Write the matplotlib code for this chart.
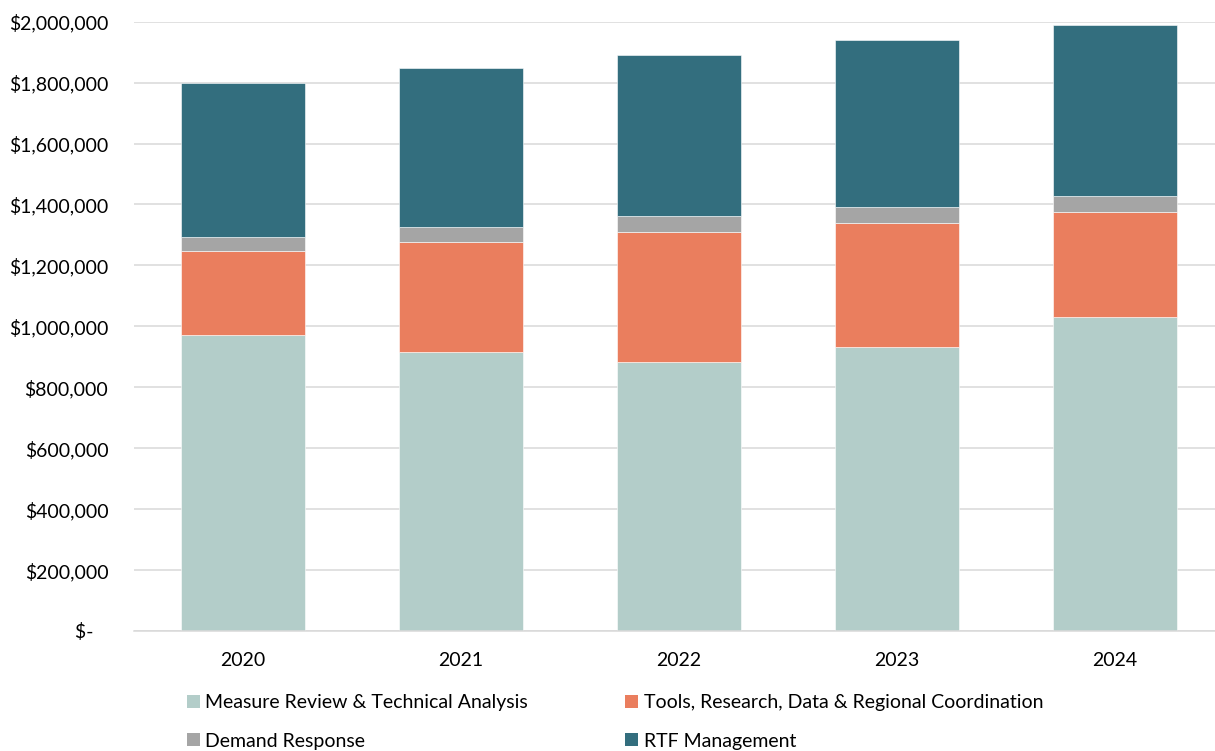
import matplotlib
matplotlib.use("Agg")
import matplotlib.pyplot as plt
from matplotlib.patches import Patch
from matplotlib.ticker import FuncFormatter
import numpy as np

# data
years = ["2020", "2021", "2022", "2023", "2024"]
measure_review = [972000, 917000, 883000, 931000, 1030000]
tools_research = [274000, 361000, 427000, 409000, 345000]
demand_response = [48000, 49000, 51000, 52000, 52000]
rtf_management = [506000, 520000, 531000, 549000, 563000]

series_names = ["Measure Review & Technical Analysis",
                "Tools, Research, Data & Regional Coordination",
                "Demand Response",
                "RTF Management"]
colors = ["#B3CDC9", "#EA7E5E", "#A5A5A5", "#336E7E"]

plt.rcParams['font.family'] = ['Lato', 'DejaVu Sans']

fig = plt.figure(figsize=(12.15, 7.51), dpi=100)
ax = fig.add_axes([134 / 1215, 120 / 751, 1 - 134 / 1215, 609.3 / 751])

x = np.arange(len(years))
bottom = np.zeros(len(years))
for vals, c in zip([measure_review, tools_research, demand_response, rtf_management], colors):
    ax.bar(x, vals, width=0.565, bottom=bottom, color=c, edgecolor="white", linewidth=0.4)
    bottom += np.array(vals)

ax.set_ylim(0, 2000000)
ax.set_xlim(-0.5, 4.5 - 9 / 218)
ax.set_yticks(np.arange(0, 2000001, 200000))
ax.yaxis.set_major_formatter(FuncFormatter(lambda v, p: "$-   " if v == 0 else "${:,.0f}".format(v)))
ax.set_xticks(x)
ax.set_xticklabels(years)
ax.tick_params(axis="both", length=0, labelsize=14, colors="black")
ax.tick_params(axis="y", pad=18.5)
ax.tick_params(axis="x", pad=15)

ax.grid(axis="y", color="#D9D9D9", linewidth=1.1)
ax.set_axisbelow(True)
for s in ["top", "right", "left"]:
    ax.spines[s].set_visible(False)
ax.spines["bottom"].set_color("#D9D9D9")
ax.spines["bottom"].set_linewidth(1.1)

# legend (column-wise fill, so reorder to read row by row)
handles = [Patch(facecolor=c, edgecolor="none") for c in colors]
order = [0, 2, 1, 3]
fig.legend([handles[i] for i in order], [series_names[i] for i in order],
           ncol=2, loc="upper left", bbox_to_anchor=(187 / 1215, 1 - 694 / 751),
           frameon=False, fontsize=14, handlelength=0.65, handleheight=0.65,
           handletextpad=0.3, columnspacing=5.0, labelspacing=1.12,
           borderpad=0, borderaxespad=0)

fig.savefig("out.png", dpi=100)
